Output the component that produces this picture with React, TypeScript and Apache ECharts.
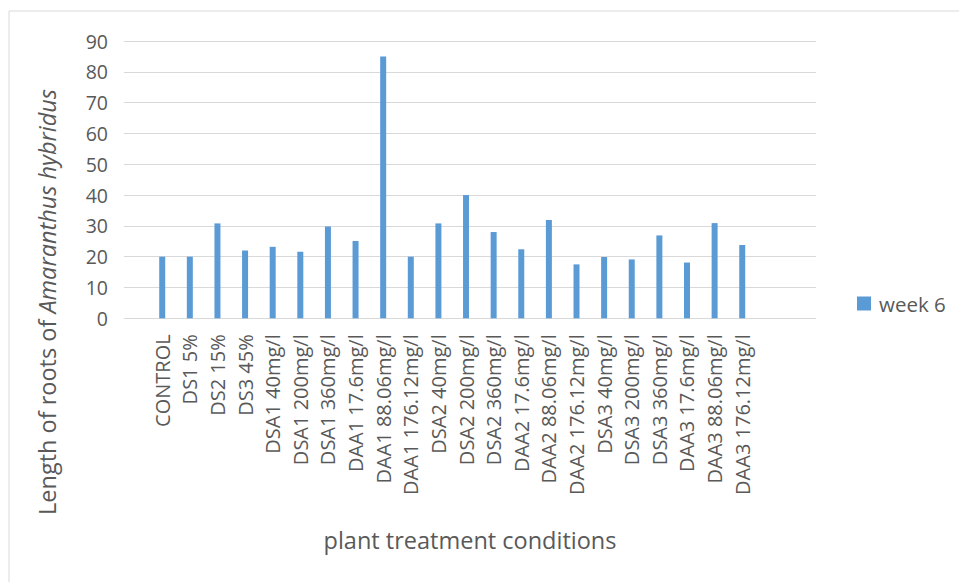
import React, { useEffect, useRef } from "react";
import * as echarts from "echarts";

const categories = [
  "CONTROL", "DS1 5%", "DS2 15%", "DS3 45%",
  "DSA1 40mg/l", "DSA1 200mg/l", "DSA1 360mg/l",
  "DAA1 17.6mg/l", "DAA1 88.06mg/l", "DAA1 176.12mg/l",
  "DSA2 40mg/l", "DSA2 200mg/l", "DSA2 360mg/l",
  "DAA2 17.6mg/l", "DAA2 88.06mg/l", "DAA2 176.12mg/l",
  "DSA3 40mg/l", "DSA3 200mg/l", "DSA3 360mg/l",
  "DAA3 17.6mg/l", "DAA3 88.06mg/l", "DAA3 176.12mg/l",
];
const week6 = [
  20, 20, 30.8, 22, 23.2, 21.6, 29.8, 25.1, 85, 20, 30.8,
  40, 28, 22.4, 31.9, 17.5, 19.9, 19.1, 26.9, 18.1, 30.9, 23.8,
];
const emptySlots = ["", ""];
const yTicks = { min: 0, max: 90, interval: 10 };
const seriesName = "week 6";

export default function App() {
  const ref = useRef<HTMLDivElement>(null);
  useEffect(() => {
    if (!ref.current) return;
    const chart = echarts.init(ref.current, undefined, { renderer: "svg" });
    const font = "'Open Sans', sans-serif";
    const txt = "#595959";
    const top = 41;
    const height = 277.3;
    const step = 27.62;
    const cats = [...categories, ...emptySlots];
    chart.setOption({
      animation: false,
      backgroundColor: "#ffffff",
      grid: [
        { left: 124, top, width: 692, height },
        { left: 148.4, top, width: step * cats.length, height },
      ],
      xAxis: [
        { type: "value", gridIndex: 0, show: false, min: 0, max: 1 },
        {
          type: "category",
          gridIndex: 1,
          data: cats,
          axisLine: { show: false },
          axisTick: { show: false },
          axisLabel: {
            rotate: 90,
            interval: 0,
            margin: 16,
            fontSize: 20,
            color: txt,
            fontFamily: font,
          },
        },
      ],
      yAxis: [
        {
          type: "value",
          gridIndex: 0,
          ...yTicks,
          axisLine: { show: false },
          axisTick: { show: false },
          axisLabel: { margin: 16, fontSize: 19.5, color: txt, fontFamily: font },
          splitLine: { lineStyle: { color: "#d9d9d9", width: 1 } },
        },
        { type: "value", gridIndex: 1, ...yTicks, show: false, splitLine: { show: false } },
      ],
      legend: {
        left: 852,
        top: 288,
        icon: "rect",
        itemWidth: 14,
        itemHeight: 14,
        data: [seriesName],
        textStyle: { fontSize: 20.5, color: txt, fontFamily: font, padding: [0, 0, 0, 3] },
      },
      series: [
        {
          name: seriesName,
          type: "bar",
          xAxisIndex: 1,
          yAxisIndex: 1,
          data: week6,
          barWidth: 6,
          itemStyle: { color: "#5B9BD5" },
        },
      ],
      graphic: [
        {
          type: "rect",
          silent: true,
          shape: { x: 9, y: 11, width: 1000, height: 1000 },
          style: { fill: "none", stroke: "#d9d9d9", lineWidth: 1 },
        },
        {
          type: "text",
          x: 470,
          y: 540,
          style: {
            text: "plant treatment conditions",
            fontSize: 23.5,
            fill: txt,
            fontFamily: font,
            align: "center",
            verticalAlign: "middle",
          },
        },
        {
          type: "text",
          x: 47,
          y: 302,
          rotation: Math.PI / 2,
          style: {
            text: "{n|Length of roots of }{i|Amaranthus hybridus}",
            fontSize: 23.5,
            fill: txt,
            fontFamily: font,
            align: "center",
            verticalAlign: "middle",
            rich: {
              n: { fontSize: 23.5, fill: txt, fontFamily: font },
              i: { fontSize: 23.5, fill: txt, fontFamily: font, fontStyle: "italic" },
            },
          },
        },
      ],
    });
    return () => chart.dispose();
  }, []);
  return (
    <div
      ref={ref}
      style={{ position: "fixed", left: 0, top: 0, width: 959, height: 582 }}
    />
  );
}
